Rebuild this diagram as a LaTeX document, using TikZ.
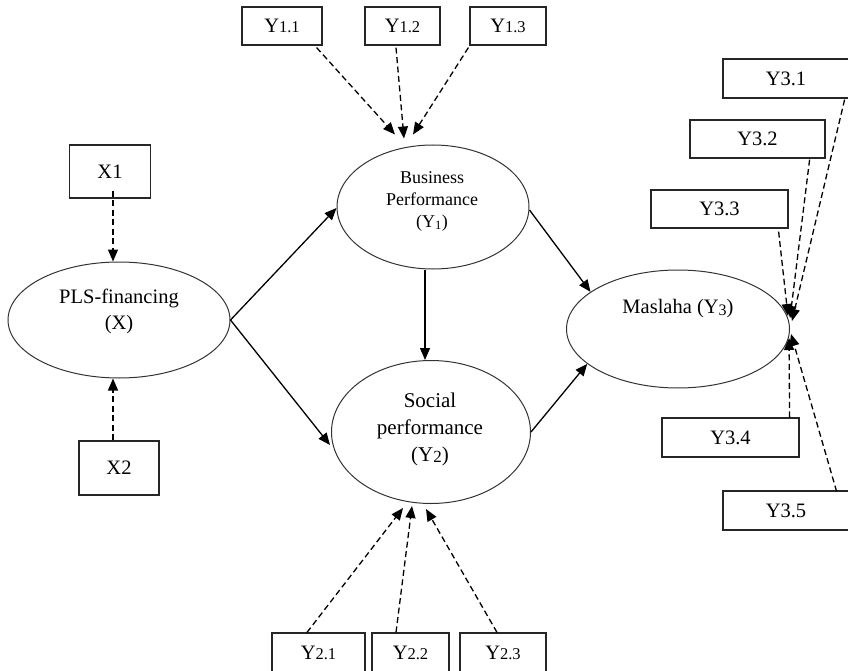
\documentclass[tikz,border=0pt]{standalone}
\usepackage{fontspec}
\setmainfont{Liberation Serif}
\usetikzlibrary{arrows.meta,shapes.geometric}
\begin{document}
\begin{tikzpicture}[x=1pt,y=-1pt,
 lat/.style={ellipse,draw=black!80,line width=1pt,inner sep=0pt},
 ind/.style={rectangle,draw=black!85,line width=1.2pt,inner sep=0pt,font=\fontsize{20.5}{22}\selectfont},
 txt/.style={align=center,inner sep=0pt},
 solidar/.style={line width=1.3pt,-{Triangle[length=12pt,width=10pt]}},
 dashar/.style={line width=1.3pt,dash pattern=on 6pt off 3.5pt,-{Triangle[length=12pt,width=10pt]}}]
\useasboundingbox (0,0) rectangle (848,671);
\newcommand{\sm}[1]{{\fontsize{16.5}{16}\selectfont #1}}
% latent variables
\node[lat,minimum width=222pt,minimum height=116pt] (pls) at (119,320) {};
\node[lat,minimum width=192pt,minimum height=124pt] (bp) at (433,207) {};
\node[lat,minimum width=199pt,minimum height=143pt] (sp) at (431,432) {};
\node[lat,minimum width=223pt,minimum height=118pt] (mas) at (678,329) {};
\node[txt,font=\fontsize{20.5}{26}\selectfont] (plsT) at (119,311) {PLS-financing\\(X)};
\node[txt,font=\fontsize{18}{22}\selectfont] (bpT) at (432,201) {Business\\Performance\\(Y\textsubscript{1})};
\node[txt,font=\fontsize{21}{27}\selectfont] (spT) at (430,429) {Social\\performance\\(Y\raisebox{-1pt}{\fontsize{17}{17}\selectfont 2})};
\node[txt,font=\fontsize{20.5}{24}\selectfont] (masT) at (678,309) {Maslaha (Y\raisebox{-1.5pt}{\fontsize{16}{16}\selectfont 3})};
% indicators
\node[ind,minimum width=80pt,minimum height=38pt] (y11) at (282,26) {Y\sm{1.1}};
\node[ind,minimum width=75pt,minimum height=38pt] (y12) at (402.5,26) {Y\sm{1.2}};
\node[ind,minimum width=76pt,minimum height=38pt] (y13) at (508,26) {Y\sm{1.3}};
\node[ind,minimum width=81pt,minimum height=53pt] (x1) at (110,171.5) {X1};
\node[ind,minimum width=80pt,minimum height=54pt] (x2) at (119,468) {X2};
\node[ind,minimum width=126pt,minimum height=39pt] (y31) at (786,78.5) {Y3.1};
\node[ind,minimum width=135pt,minimum height=38pt] (y32) at (757.5,139) {Y3.2};
\node[ind,minimum width=137pt,minimum height=38pt] (y33) at (719.5,209) {Y3.3};
\node[ind,minimum width=137pt,minimum height=39pt] (y34) at (730.5,437.5) {Y3.4};
\node[ind,minimum width=126pt,minimum height=39pt] (y35) at (786,510.5) {Y3.5};
\node[ind,minimum width=93pt,minimum height=40pt] (y21) at (318.5,653) {Y\sm{2.1}};
\node[ind,minimum width=77pt,minimum height=40pt] (y22) at (410.5,653) {Y\sm{2.2}};
\node[ind,minimum width=86pt,minimum height=40pt] (y23) at (503,653) {Y\sm{2.3}};
% structural paths
\draw[solidar] (pls.east) -- ([yshift=-1pt]bp.west);
\draw[solidar] (pls.east) -- ([xshift=-1pt,yshift=-13pt]sp.west);
\draw[solidar] ([xshift=-8pt]bp.south) -- ([xshift=-6pt]sp.north);
\draw[solidar] ([yshift=-3pt]bp.east) -- (mas.157);
\draw[solidar] (sp.east) -- (mas.201);
% measurement paths
\draw[dashar] ([xshift=-6pt,yshift=-2pt]y11.south east) -- ([xshift=-38pt,yshift=10pt]bp.north);
\draw[dashar] ([xshift=-6.5pt,yshift=-2pt]y12.south) -- ([xshift=-29pt,yshift=6pt]bp.north);
\draw[dashar] ([xshift=-1pt,yshift=-2pt]y13.south west) -- ([xshift=-20pt,yshift=10pt]bp.north);
\draw[dashar] ([xshift=3pt,yshift=8pt]x1.south) -- ([xshift=-6pt]pls.north);
\draw[dashar] ([xshift=-6pt]x2.north) -- ([xshift=-6pt]pls.south);
\draw[dashar] ([xshift=-11.5pt]y21.north) -- ([xshift=-28pt,yshift=-4pt]sp.south);
\draw[dashar] ([xshift=-14.5pt]y22.north) -- ([xshift=-19pt,yshift=-2pt]sp.south);
\draw[dashar] ([xshift=-6pt]y23.north) -- ([xshift=-5pt,yshift=-5pt]sp.south);
\draw[dashar] ([xshift=-5pt,yshift=-1pt]y31.south east) -- ([xshift=2pt,yshift=8pt]mas.east);
\draw[dashar] ([xshift=-16pt,yshift=-1pt]y32.south east) -- ([yshift=11pt]mas.east);
\draw[dashar] ([xshift=-10pt,yshift=-3pt]y33.south east) -- ([xshift=-2pt,yshift=13pt]mas.east);
\draw[dashar] ([xshift=-10pt]y34.north east) -- ([xshift=-1pt,yshift=-9pt]mas.east);
\draw[dashar] ([xshift=-13pt,yshift=-1pt]y35.north east) -- ([xshift=1pt,yshift=-5pt]mas.east);
\end{tikzpicture}
\end{document}
